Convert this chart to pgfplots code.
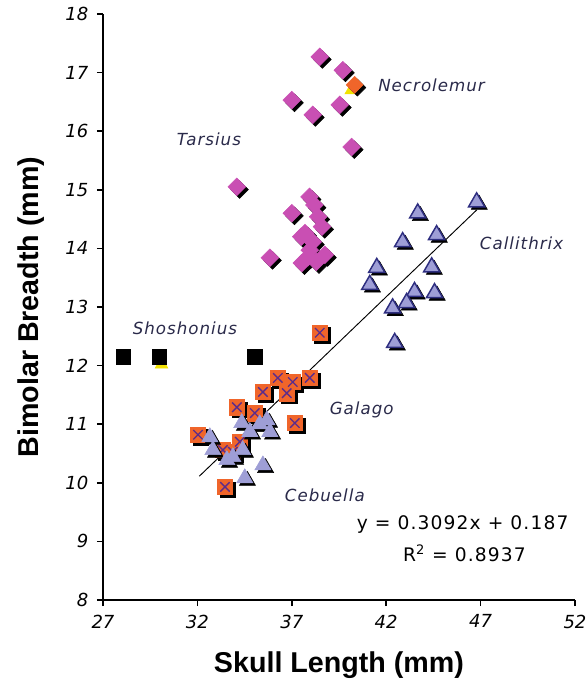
\documentclass[border=0pt]{standalone}
\usepackage{fontspec}
\setmainfont{DejaVu Sans}
\newfontfamily\labfont{Liberation Sans}
\newfontfamily\annfont[LetterSpace=6]{DejaVu Sans}
\usepackage{pgfplots}
\usepackage{pgfplotstable}
\pgfplotsset{compat=1.18}
\definecolor{tars}{HTML}{C94FB3}
\definecolor{gal}{HTML}{F0652A}
\definecolor{lav}{HTML}{9E9ED6}
\definecolor{navy}{HTML}{2E2E80}
\definecolor{xcol}{HTML}{5B2C8C}
\definecolor{txt}{HTML}{2A2A4A}
\definecolor{yel}{HTML}{F2E200}

\pgfplotstableread{
x y
37.94 14.88
37.00 14.60
38.20 14.74
38.40 14.54
38.60 14.37
37.70 14.26
38.11 14.11
37.50 14.20
37.95 13.97
37.85 13.85
38.75 13.89
37.53 13.75
35.84 13.84
38.30 13.77
38.48 17.27
39.70 17.04
37.00 16.53
38.11 16.28
39.54 16.45
40.17 15.73
34.09 15.05
}\tarsius

\pgfplotstableread{
x y
38.48 12.56
36.26 11.79
37.05 11.72
37.95 11.79
35.47 11.55
36.73 11.53
34.09 11.29
35.04 11.19
37.16 11.02
32.03 10.82
34.25 10.70
33.35 10.56
33.88 10.53
33.46 9.93
}\galago

\pgfplotstableread{
x y
32.66 10.78
32.82 10.56
33.88 10.44
34.35 11.02
34.78 10.87
35.30 11.00
35.68 11.07
35.84 10.87
34.40 10.56
33.56 10.39
35.47 10.30
34.51 10.08
}\cebuella

\pgfplotstableread{
x y
46.79 14.79
43.67 14.60
44.67 14.23
42.87 14.11
41.50 13.67
44.41 13.68
41.13 13.38
43.50 13.26
44.56 13.24
43.08 13.07
42.34 12.98
42.45 12.39
}\callithrix

\pgfplotstableread{
x y
28.06 12.15
30.00 12.15
35.04 12.15
}\shoshonius

\pgfplotstableread{
x y
40.33 16.79
}\necrolemur

\pgfplotstableread{
x y
40.15 16.70
30.10 12.02
}\yellowpts

\begin{document}
\begin{tikzpicture}
\path[use as bounding box] (-77.25pt,-66.75pt) rectangle (363.75pt,450pt);
\begin{axis}[
  at={(0,0)}, anchor=south west,
  scale only axis, width=354pt, height=439.5pt,
  xmin=27, xmax=52, ymin=8, ymax=18,
  xtick={27,32,37,42,47,52}, ytick={8,9,...,18},
  axis x line*=bottom, axis y line*=left,
  axis line style={line width=1.3pt, black},
  tick align=outside, major tick length=4.5pt,
  tick style={line width=1.2pt, black},
  clip=false,
  /pgf/number format/assume math mode=true,
  ticklabel style={font=\itshape\fontsize{13.5}{13.5}\selectfont, text=black},
  xticklabel style={yshift=-3pt},
  yticklabel style={xshift=-3pt},
  xlabel={\labfont\bfseries\fontsize{21.5}{21.5}\selectfont Skull Length (mm)},
  ylabel={\labfont\bfseries\fontsize{21.5}{21.5}\selectfont Bimolar Breadth (mm)},
  xlabel style={at={(axis description cs:0.5,-0.111)}, anchor=center},
  ylabel style={at={(axis description cs:-0.1525,0.5)}, anchor=center},
]
% yellow hidden markers
\addplot[only marks, mark=triangle*, mark size=5.5pt, mark options={fill=yel, draw=yel}] table {\yellowpts};
% Shoshonius
\addplot[only marks, mark=square*, mark size=5.3pt, mark options={fill=black, draw=black}] table {\shoshonius};
% Galago
\addplot[only marks, mark=square*, mark size=5.8pt, mark options={xshift=2pt, yshift=-2pt, fill=black, draw=black}] table {\galago};
\addplot[only marks, mark=square*, mark size=5.8pt, mark options={fill=gal, draw=gal}] table {\galago};
\addplot[only marks, mark=x, mark size=5pt, mark options={draw=xcol, line width=1pt}] table {\galago};
% Cebuella
\addplot[only marks, mark=triangle*, mark size=7pt, mark options={xshift=2pt, yshift=-2pt, fill=black, draw=black}] table {\cebuella};
\addplot[only marks, mark=triangle*, mark size=7pt, mark options={fill=lav, draw=lav}] table {\cebuella};
% Callithrix
\addplot[only marks, mark=triangle*, mark size=7pt, mark options={xshift=2pt, yshift=-2pt, fill=black, draw=black}] table {\callithrix};
\addplot[only marks, mark=triangle*, mark size=7pt, mark options={fill=lav, draw=navy, line width=1.1pt}] table {\callithrix};
% trend line
\addplot[black, line width=0.7pt] coordinates {(32.1,10.112) (46.8,14.658)};
% Tarsius
\addplot[only marks, mark=square*, mark size=4.7pt, mark options={xshift=2pt, yshift=-2pt, rotate=45, fill=black, draw=black}] table {\tarsius};
\addplot[only marks, mark=square*, mark size=4.7pt, mark options={rotate=45, fill=tars, draw=tars}] table {\tarsius};
% Necrolemur
\addplot[only marks, mark=square*, mark size=4.5pt, mark options={xshift=2pt, yshift=-2pt, rotate=45, fill=black, draw=black}] table {\necrolemur};
\addplot[only marks, mark=square*, mark size=4.5pt, mark options={rotate=45, fill=gal, draw=gal}] table {\necrolemur};
% labels
\node[text=txt, font=\annfont\itshape\fontsize{12.5}{12.5}\selectfont] at (axis cs:32.61,15.87) {Tarsius};
\node[text=txt, font=\annfont\itshape\fontsize{12.5}{12.5}\selectfont] at (axis cs:44.4,16.79) {Necrolemur};
\node[text=txt, font=\annfont\itshape\fontsize{12.5}{12.5}\selectfont] at (axis cs:49.17,14.09) {Callithrix};
\node[text=txt, font=\annfont\itshape\fontsize{12.5}{12.5}\selectfont] at (axis cs:31.34,12.64) {Shoshonius};
\node[text=txt, font=\annfont\itshape\fontsize{12.5}{12.5}\selectfont] at (axis cs:40.7,11.24) {Galago};
\node[text=txt, font=\annfont\itshape\fontsize{12.5}{12.5}\selectfont] at (axis cs:38.75,9.79) {Cebuella};
\node[text=black, font=\annfont\fontsize{14}{14}\selectfont] at (axis cs:46.05,9.28) {y = 0.3092x + 0.187};
\node[text=black, font=\annfont\fontsize{14}{14}\selectfont] at (axis cs:46.15,8.8) {R\textsuperscript{2} = 0.8937};
\end{axis}
\end{tikzpicture}
\end{document}
